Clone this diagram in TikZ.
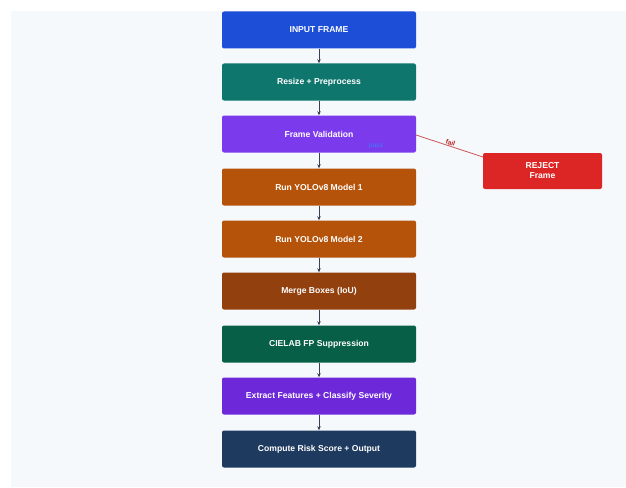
\documentclass[tikz,border=0pt]{standalone}
\usepackage{fontspec}
\setmainfont{Liberation Sans}
\usetikzlibrary{arrows.meta}
\definecolor{bgc}{HTML}{F5F9FC}
\definecolor{cInput}{HTML}{1D4ED8}
\definecolor{cResize}{HTML}{0F766E}
\definecolor{cValid}{HTML}{7C3AED}
\definecolor{cYolo}{HTML}{B45309}
\definecolor{cMerge}{HTML}{92400E}
\definecolor{cCie}{HTML}{065F46}
\definecolor{cExtract}{HTML}{6D28D9}
\definecolor{cRisk}{HTML}{1E3A5F}
\definecolor{cReject}{HTML}{DC2626}
\definecolor{cArrow}{HTML}{374151}
\definecolor{cFail}{HTML}{B91C1C}
\definecolor{cPass}{HTML}{3B82F6}
\tikzset{
  stepbox/.style={draw=none, rounded corners=2pt, minimum width=194pt, minimum height=37pt,
    text=white, font=\fontsize{8.6}{10}\selectfont\bfseries, align=center, inner sep=0pt},
  flow/.style={draw=cArrow, line width=0.9pt, -{Stealth[length=4pt,width=3.5pt]}},
  failline/.style={draw=cFail!75, line width=0.8pt},
}
\begin{document}
\begin{tikzpicture}[x=1pt,y=-1pt]
\useasboundingbox (0,0) rectangle (626,487);
\fill[bgc] (11,11) rectangle (626,487);
\node[stepbox, fill=cInput]   (n1) at (319,30)  {INPUT FRAME};
\node[stepbox, fill=cResize]  (n2) at (319,82)  {Resize + Preprocess};
\node[stepbox, fill=cValid]   (n3) at (319,134) {Frame Validation};
\node[stepbox, fill=cYolo]    (n4) at (319,187) {Run YOLOv8 Model 1};
\node[stepbox, fill=cYolo]    (n5) at (319,239) {Run YOLOv8 Model 2};
\node[stepbox, fill=cMerge]   (n6) at (319,291) {Merge Boxes (IoU)};
\node[stepbox, fill=cCie]     (n7) at (319,344) {CIELAB FP Suppression};
\node[stepbox, fill=cExtract] (n8) at (319,396) {Extract Features + Classify Severity};
\node[stepbox, fill=cRisk]    (n9) at (319,449) {Compute Risk Score + Output};
\node[stepbox, fill=cReject, minimum width=119pt, minimum height=36pt] (rj) at (542.5,171) {REJECT\\Frame};
\draw[flow] (n1) -- (n2);
\draw[flow] (n2) -- (n3);
\draw[flow] (n3) -- (n4);
\draw[flow] (n4) -- (n5);
\draw[flow] (n5) -- (n6);
\draw[flow] (n6) -- (n7);
\draw[flow] (n7) -- (n8);
\draw[flow] (n8) -- (n9);
\node[text=cPass, font=\fontsize{6.5}{7}\selectfont, inner sep=0pt] (pass) at (376,146) {pass};
\coordinate (fs) at (416,135);
\coordinate (fe) at (483,157);
\draw[failline] (fs) -- node[pos=0.5, above, sloped, inner sep=0.5pt, text=cFail, font=\fontsize{6.5}{7}\selectfont\bfseries] (fl) {fail} (fe);
\end{tikzpicture}
\end{document}
